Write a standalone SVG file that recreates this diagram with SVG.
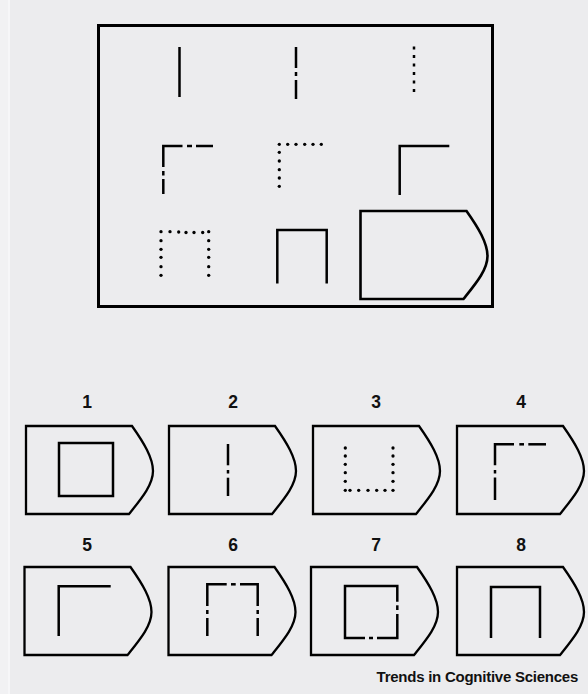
<svg xmlns="http://www.w3.org/2000/svg" width="588" height="694" viewBox="0 0 588 694">
<style>
.s{stroke:#000;stroke-width:2.5;fill:none;stroke-linecap:butt;stroke-linejoin:miter}
.p{stroke:#000;stroke-width:2.3;fill:none;stroke-linejoin:miter}
.d{fill:#000}
.lbl{font-family:"Liberation Sans",Arial,sans-serif;font-weight:bold;font-size:17.5px;fill:#111;text-anchor:middle}
.ft{font-family:"Liberation Sans",Arial,sans-serif;font-weight:bold;font-size:15px;letter-spacing:-0.25px;fill:#111;text-anchor:end}
</style>
<defs>
<path id="pent" d="M0,0 L106,0 C118,17 127,32 127,45 C127,59 115,73 103,88 L0,88 Z"/>
<circle id="dot" r="1.65"/>
</defs>
<rect x="0" y="0" width="588" height="694" fill="#ECECEE"/>
<rect x="0" y="0" width="8" height="694" fill="#F1F1F3"/>
<line x1="9" y1="0" x2="9" y2="694" stroke="#FAFAFB" stroke-width="1.5"/>

<g id="matrix">
<rect x="98.5" y="25.5" width="394" height="281" fill="none" stroke="#000" stroke-width="3"/>
<g id="cell1"><line class="s" x1="179.5" y1="47" x2="179.5" y2="97"/></g>
<g id="cell2" class="s">
<line x1="296" y1="47" x2="296" y2="68"/><line x1="296" y1="72" x2="296" y2="76"/><line x1="296" y1="80" x2="296" y2="99"/>
</g>
<g id="cell3"><line class="s" x1="414" y1="46.6" x2="414" y2="92" stroke-dasharray="2.9 5.6" stroke-width="2.8"/></g>
<g id="cell4" class="s">
<path d="M182.5,146 H163.3 V167"/>
<line x1="187" y1="146" x2="192" y2="146"/><line x1="196" y1="146" x2="213" y2="146"/>
<line x1="163.3" y1="171" x2="163.3" y2="175.5"/><line x1="163.3" y1="179" x2="163.3" y2="194"/>
</g>
<g id="cell5" class="d">
<use href="#dot" x="279.3" y="144.3"/><use href="#dot" x="287.7" y="144.3"/><use href="#dot" x="296" y="144.3"/><use href="#dot" x="304.7" y="144.3"/><use href="#dot" x="313" y="144.3"/><use href="#dot" x="321.3" y="144.3"/>
<use href="#dot" x="279.3" y="152.3"/><use href="#dot" x="279.3" y="161"/><use href="#dot" x="279.3" y="169.7"/><use href="#dot" x="279.3" y="178"/><use href="#dot" x="279.3" y="186.3"/>
</g>
<g id="cell6"><path class="s" d="M449.3,146 H399.7 V195"/></g>
<g id="cell7" class="d">
<use href="#dot" x="161" y="231.7"/><use href="#dot" x="170" y="231.7"/><use href="#dot" x="178.7" y="232"/><use href="#dot" x="186" y="232.5"/><use href="#dot" x="194" y="232.5"/><use href="#dot" x="202.7" y="232.5"/><use href="#dot" x="208.7" y="231.7"/>
<use href="#dot" x="161" y="240.7"/><use href="#dot" x="161" y="249.3"/><use href="#dot" x="161" y="257.3"/><use href="#dot" x="161" y="266.7"/><use href="#dot" x="161" y="275.3"/>
<use href="#dot" x="208.7" y="240.7"/><use href="#dot" x="208.7" y="249.3"/><use href="#dot" x="208.7" y="257.3"/><use href="#dot" x="208.7" y="266.7"/><use href="#dot" x="208.7" y="275.3"/>
</g>
<g id="cell8"><path class="s" d="M277.3,283.5 V230 H326.7 V283.5"/></g>
<g id="cell9"><use href="#pent" class="p" x="360.5" y="211" style="stroke-width:2.6"/></g>
</g>

<g id="options">
<g id="opt1">
<text class="lbl" x="87" y="407.5">1</text>
<use href="#pent" class="p" x="26" y="426"/>
<rect class="s" x="59" y="443" width="54" height="53"/>
</g>
<g id="opt2">
<text class="lbl" x="233" y="407.5">2</text>
<use href="#pent" class="p" x="169" y="426"/>
<g class="s"><line x1="228" y1="444" x2="228" y2="465.3"/><line x1="228" y1="470" x2="228" y2="473.5"/><line x1="228" y1="477.7" x2="228" y2="496"/></g>
</g>
<g id="opt3">
<text class="lbl" x="376" y="407.5">3</text>
<use href="#pent" class="p" x="313" y="426"/>
<g class="d">
<use href="#dot" x="345.3" y="448"/><use href="#dot" x="345.3" y="456"/><use href="#dot" x="345.3" y="464.3"/><use href="#dot" x="345.3" y="472.7"/><use href="#dot" x="345.3" y="481.3"/><use href="#dot" x="345.3" y="490.3"/>
<use href="#dot" x="393" y="448"/><use href="#dot" x="393" y="456"/><use href="#dot" x="393" y="464.3"/><use href="#dot" x="393" y="472.7"/><use href="#dot" x="393" y="481.3"/><use href="#dot" x="393" y="490.3"/>
<use href="#dot" x="350" y="490.3"/><use href="#dot" x="358.7" y="490.3"/><use href="#dot" x="368" y="490.3"/><use href="#dot" x="376.7" y="490.3"/><use href="#dot" x="385" y="490.3"/>
</g>
</g>
<g id="opt4">
<text class="lbl" x="521" y="407.5">4</text>
<use href="#pent" class="p" x="457" y="426"/>
<g class="s">
<path d="M514,444.3 H495 V465.3"/>
<line x1="519.3" y1="444.3" x2="524" y2="444.3"/><line x1="528.3" y1="444.3" x2="546" y2="444.3"/>
<line x1="495" y1="470" x2="495" y2="473.5"/><line x1="495" y1="477.5" x2="495" y2="500"/>
</g>
</g>
<g id="opt5">
<text class="lbl" x="87" y="551">5</text>
<use href="#pent" class="p" x="24.5" y="567"/>
<path class="s" d="M110.7,586.3 H58.7 V636"/>
</g>
<g id="opt6">
<text class="lbl" x="233" y="551">6</text>
<use href="#pent" class="p" x="168.5" y="567"/>
<g class="s">
<path d="M207.3,606 V584.3 H226.7"/>
<path d="M240,584.3 H257.7 V606"/>
<line x1="231" y1="584.3" x2="235.7" y2="584.3"/>
<line x1="207.3" y1="610" x2="207.3" y2="614"/><line x1="207.3" y1="618" x2="207.3" y2="636"/>
<line x1="257.7" y1="610" x2="257.7" y2="614"/><line x1="257.7" y1="618" x2="257.7" y2="636"/>
</g>
</g>
<g id="opt7">
<text class="lbl" x="376" y="551">7</text>
<use href="#pent" class="p" x="311" y="567"/>
<g class="s">
<path d="M365,638 H345 V586 H397.3 V601.7"/>
<line x1="397.3" y1="605.3" x2="397.3" y2="610"/>
<path d="M397.3,614 V638 H377"/>
<line x1="369" y1="638" x2="373" y2="638"/>
</g>
</g>
<g id="opt8">
<text class="lbl" x="521" y="551">8</text>
<use href="#pent" class="p" x="457" y="567"/>
<path class="s" d="M491,638 V587 H540 V638"/>
</g>
</g>

<text class="ft" x="578" y="681.5">Trends in Cognitive Sciences</text>
</svg>
